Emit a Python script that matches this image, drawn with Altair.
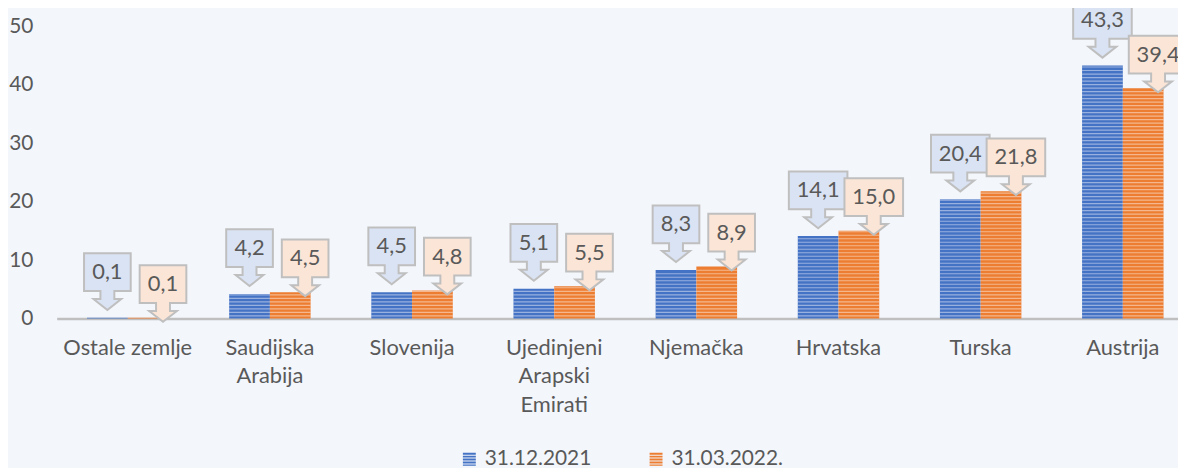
import altair as alt
import pandas as pd

categories = ["Ostale zemlje", "Saudijska Arabija", "Slovenija", "Ujedinjeni Arapski Emirati",
              "Njemačka", "Hrvatska", "Turska", "Austrija"]
series = ["31.12.2021", "31.03.2022."]
values_2021 = [0.1, 4.2, 4.5, 5.1, 8.3, 14.1, 20.4, 43.3]
values_2022 = [0.1, 4.5, 4.8, 5.5, 8.9, 15.0, 21.8, 39.4]
y_ticks = [0, 10, 20, 30, 40, 50]

BLUE, ORANGE = "#4472C4", "#ED7D31"
TXT = "#595959"
FONT = "Lato"

rows = []
for s, vals, k in [(series[0], values_2021, "b"), (series[1], values_2022, "o")]:
    for c, v in zip(categories, vals):
        lab = f"{v:.1f}".replace(".", ",")
        rows.append({"country": c, "series": s, "value": v, "label": lab,
                     "key": k + ("w" if len(lab) > 3 else "n")})
df = pd.DataFrame(rows)

# decorative horizontal stripes inside each bar
stripe_rows = []
for r in rows:
    y = 0.35
    while y + 0.2 <= r["value"]:
        stripe_rows.append({"country": r["country"], "series": r["series"], "y0": y, "y1": y + 0.2})
        y += 0.6
sdf = pd.DataFrame(stripe_rows)


def callout(dx, tip, w):
    hw = w / 2
    tb, bb, hb = tip - 57, tip - 19, tip - 11
    return (f"M{dx-hw},{tb}L{dx+hw},{tb}L{dx+hw},{bb}L{dx+7},{bb}L{dx+7},{hb}"
            f"L{dx+14},{hb}L{dx},{tip}L{dx-14},{hb}L{dx-7},{hb}L{dx-7},{bb}L{dx-hw},{bb}Z")


B_DX, B_TIP = 0, -8
O_DX, O_TIP = 15, 4
shape_dom = ["bn", "bw", "on", "ow"]
shape_rng = [callout(B_DX, B_TIP, 47), callout(B_DX, B_TIP, 59),
             callout(O_DX, O_TIP, 47), callout(O_DX, O_TIP, 59)]

stripe_sym = ("M-1,-1H1V-0.7H-1Z M-1,-0.55H1V-0.25H-1Z M-1,-0.1H1V0.2H-1Z "
              "M-1,0.35H1V0.65H-1Z M-1,0.8H1V1H-1Z")

x_enc = alt.X("country:N", sort=categories, title=None,
              scale=alt.Scale(range=[0, 1145], paddingInner=0.427, paddingOuter=0.2135),
              axis=alt.Axis(labelAngle=0, labelFont=FONT, labelFontSize=22, labelColor=TXT,
                            ticks=False, domainColor="#BFBFBF", domainWidth=2.5,
                            labelPadding=19, labelLineHeight=29, labelLimit=300,
                            labelExpr="datum.label == 'Ostale zemlje' ? datum.label : split(datum.label, ' ')"))
y_scale = alt.Scale(domain=[0, 50], nice=False)

bars = alt.Chart(df).mark_bar().encode(
    x=x_enc,
    xOffset=alt.XOffset("series:N", sort=series, scale=alt.Scale(paddingInner=0, paddingOuter=0)),
    y=alt.Y("value:Q", scale=y_scale, title=None,
            axis=alt.Axis(values=y_ticks, grid=False, ticks=False, domain=False,
                          labelFont=FONT, labelFontSize=21, labelColor=TXT, labelPadding=24)),
    color=alt.Color("series:N", sort=series, scale=alt.Scale(domain=series, range=[BLUE, ORANGE]),
                    legend=alt.Legend(title=None, orient="none", legendX=405, legendY=425,
                                      direction="horizontal", symbolType=stripe_sym, symbolSize=169,
                                      symbolStrokeWidth=0, labelFont=FONT, labelFontSize=21,
                                      labelColor=TXT, columnPadding=54, labelOffset=5)),
)

stripes = alt.Chart(sdf).mark_bar(color="white", opacity=0.45).encode(
    x=alt.X("country:N", sort=categories), xOffset=alt.XOffset("series:N", sort=series),
    y=alt.Y("y0:Q", scale=y_scale), y2="y1:Q",
)

boxes = alt.Chart(df).mark_point(filled=True, size=4, opacity=1, stroke="#BFBFBF",
                                 strokeWidth=2, strokeOpacity=1, fillOpacity=1).encode(
    x=alt.X("country:N", sort=categories), xOffset=alt.XOffset("series:N", sort=series),
    y=alt.Y("value:Q", scale=y_scale),
    shape=alt.Shape("key:N", scale=alt.Scale(domain=shape_dom, range=shape_rng), legend=None),
    fill=alt.Fill("series:N", scale=alt.Scale(domain=series, range=["#DAE3F3", "#FBE5D6"]), legend=None),
)

txt_b = alt.Chart(df).transform_filter(alt.datum.series == series[0]).mark_text(
    font=FONT, fontSize=22, color=TXT, dx=B_DX, dy=B_TIP - 38, baseline="middle", align="center"
).encode(x=alt.X("country:N", sort=categories), xOffset=alt.XOffset("series:N", sort=series),
         y=alt.Y("value:Q", scale=y_scale), text="label:N")

txt_o = alt.Chart(df).transform_filter(alt.datum.series == series[1]).mark_text(
    font=FONT, fontSize=22, color=TXT, dx=O_DX, dy=O_TIP - 38, baseline="middle", align="center"
).encode(x=alt.X("country:N", sort=categories), xOffset=alt.XOffset("series:N", sort=series),
         y=alt.Y("value:Q", scale=y_scale), text="label:N")

chart = alt.layer(bars, stripes, boxes, txt_b, txt_o).resolve_scale(
    fill="independent"
).properties(
    width=1129, height=294,
    autosize=alt.AutoSizeParams(type="none"),
    padding={"left": 49, "top": 17, "right": 0, "bottom": 149},
    background="#F3F6FB",
).configure_view(stroke=None)

chart.save("out.html", embed_options={"renderer": "svg", "actions": False})
